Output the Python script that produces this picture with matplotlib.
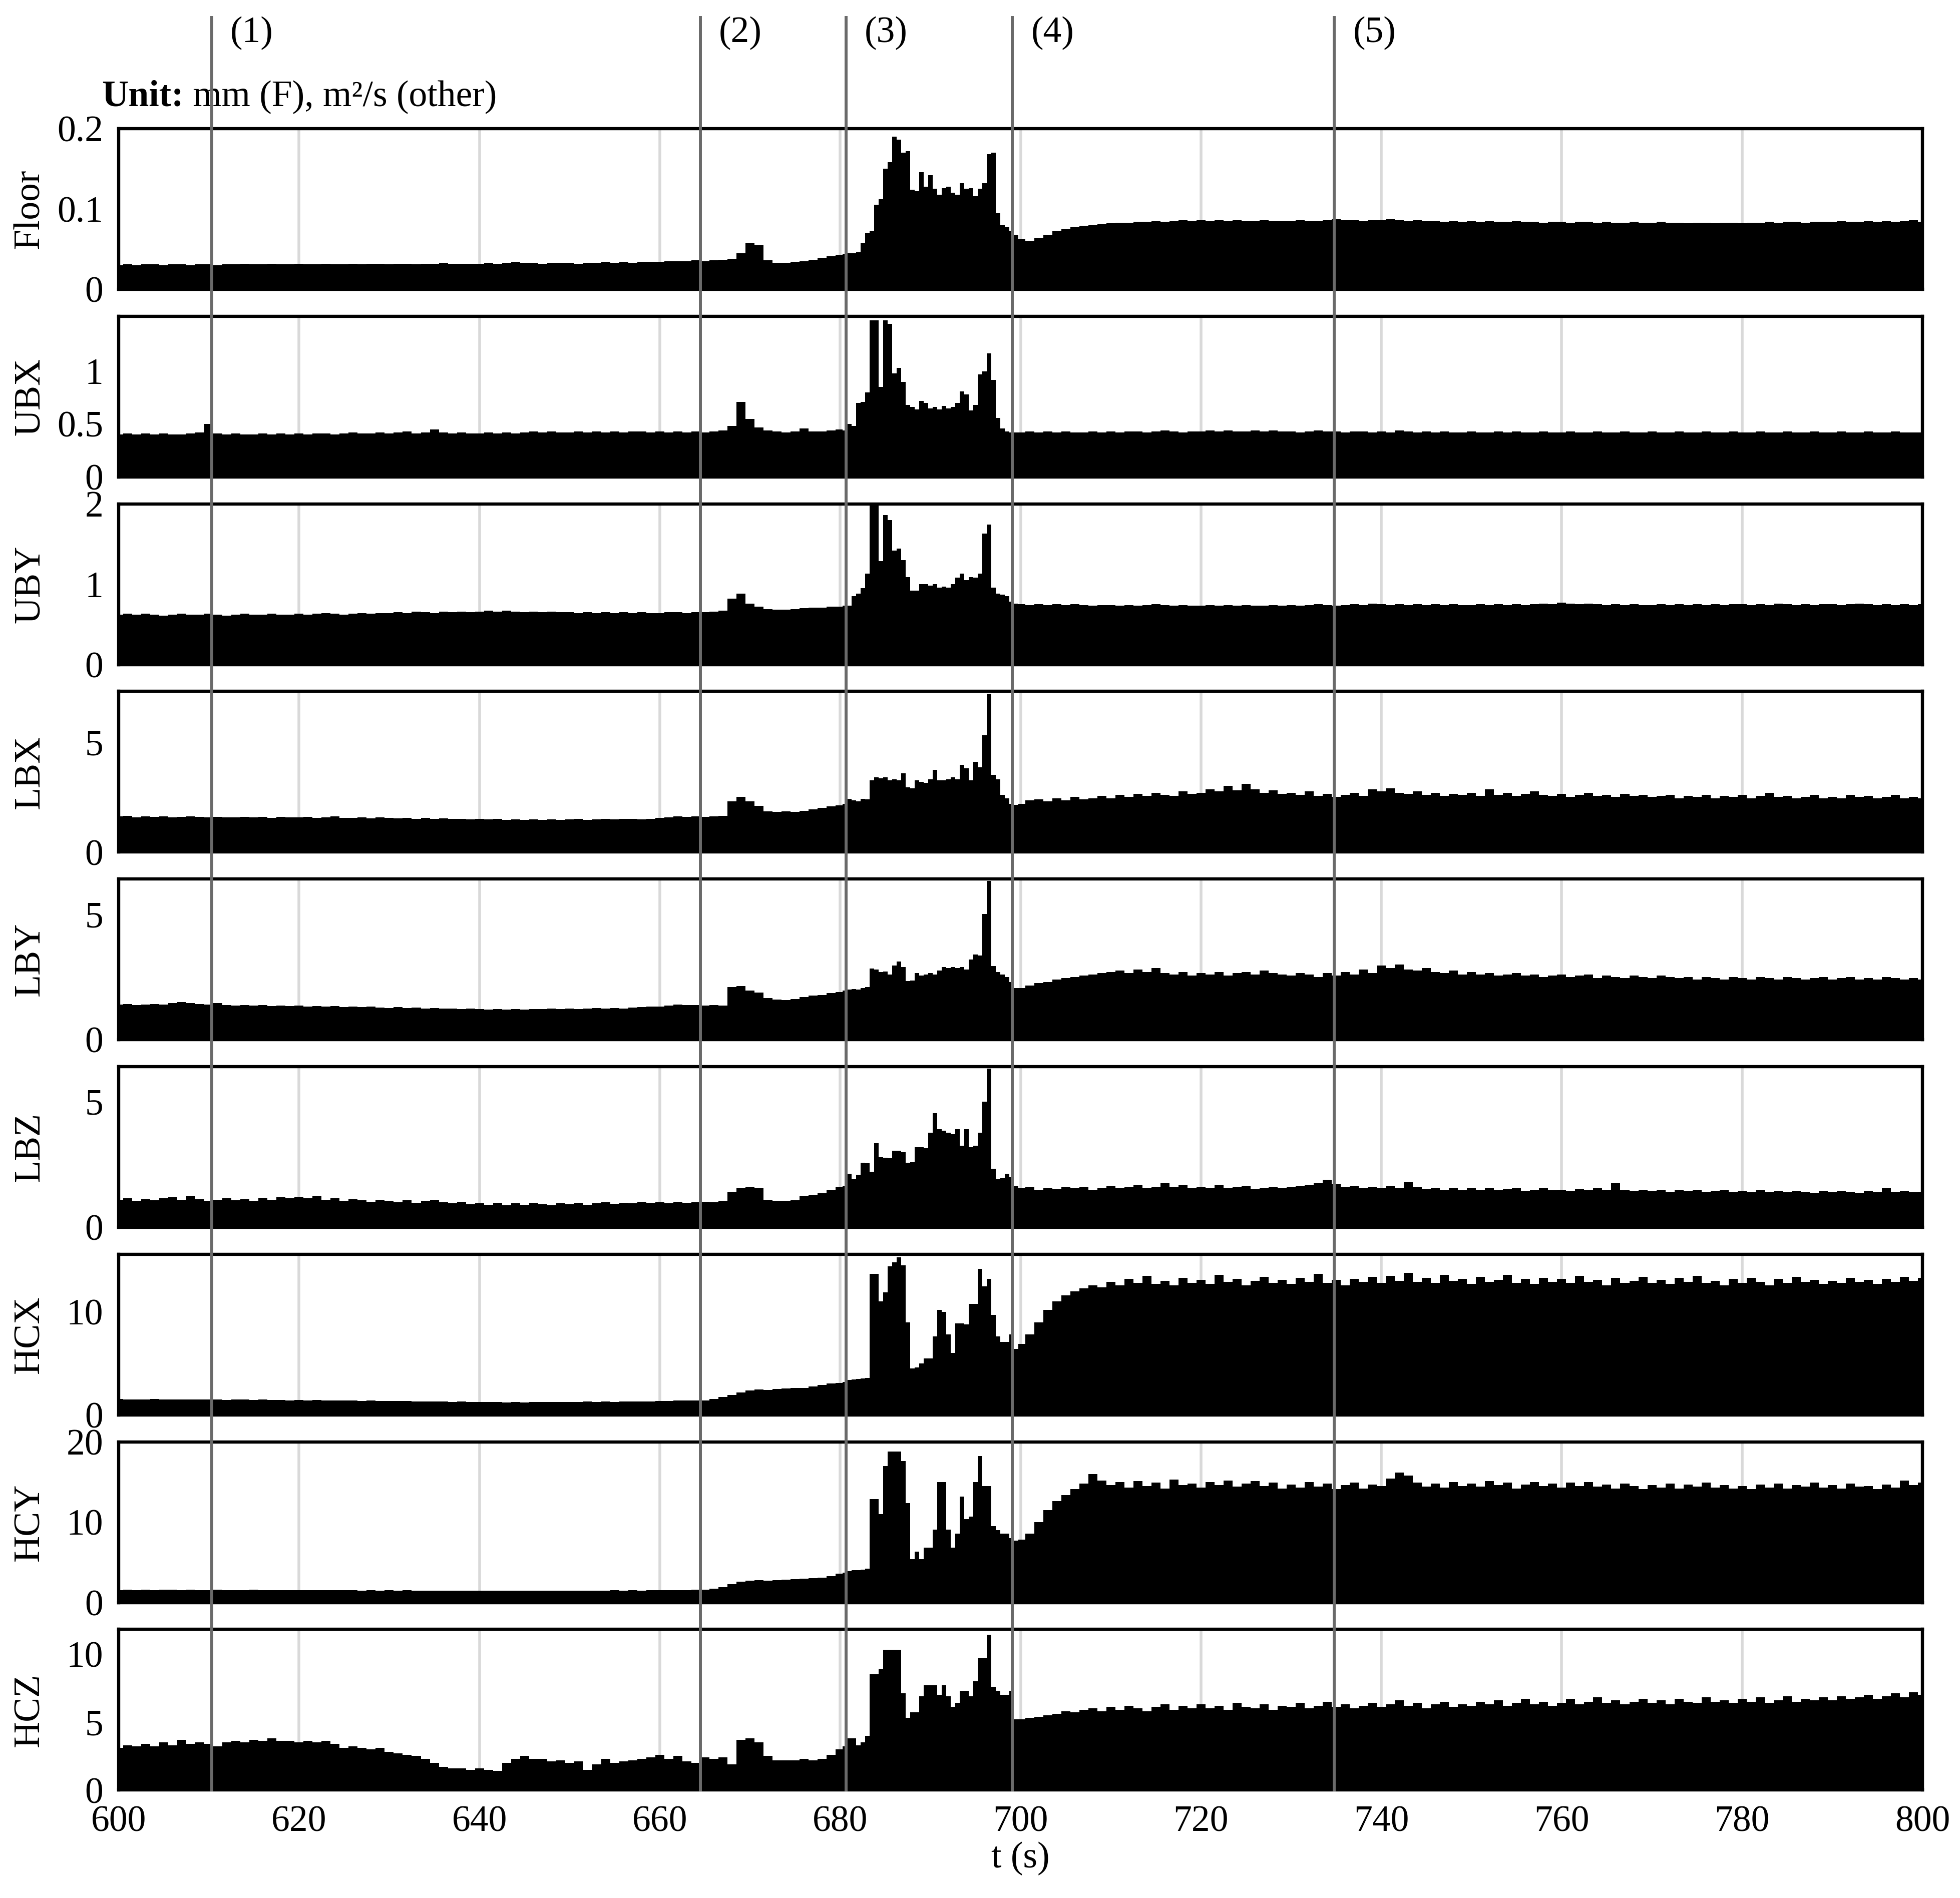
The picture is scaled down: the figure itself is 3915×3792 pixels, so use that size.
import numpy as np
import matplotlib
matplotlib.use("Agg")
import matplotlib.pyplot as plt
from matplotlib.lines import Line2D
from matplotlib.transforms import blended_transform_factory, ScaledTranslation

plt.rcParams['font.family'] = ['Liberation Serif', 'DejaVu Serif']

# ---------------- data ----------------
# sample times: 1 s steps 600-679, 0.5 s steps 680-699.5, 1 s steps 700-800
t_early = list(range(600, 680))
t_event = [680 + 0.5 * k for k in range(40)]
t_late = list(range(700, 801))

names = ["Floor", "UBX", "UBY", "LBX", "LBY", "LBZ", "HCX", "HCY", "HCZ"]
ylims = [0.2, 1.52, 2.0, 7.3, 6.4, 6.4, 15.6, 20.0, 11.8]
yticks = [[0, 0.1, 0.2], [0, 0.5, 1], [0, 1, 2], [0, 5], [0, 5], [0, 5],
          [0, 10], [0, 10, 20], [0, 5, 10]]
yticklabels = [["0", "0.1", "0.2"], ["0", "0.5", "1"], ["0", "1", "2"], ["0", "5"],
               ["0", "5"], ["0", "5"], ["0", "10"], ["0", "10", "20"], ["0", "5", "10"]]

event_times = [610.3, 664.5, 680.65, 699.1, 734.8]
event_labels = ["(1)", "(2)", "(3)", "(4)", "(5)"]

floor = [
    0.030, 0.031, 0.030, 0.031, 0.031, 0.030, 0.031, 0.031, 0.030, 0.031,
    0.031, 0.030, 0.031, 0.031, 0.032, 0.031, 0.031, 0.032, 0.031, 0.031,
    0.032, 0.031, 0.031, 0.032, 0.031, 0.031, 0.032, 0.031, 0.032, 0.032,
    0.031, 0.032, 0.032, 0.031, 0.032, 0.032, 0.033, 0.032, 0.032, 0.032,
    0.032, 0.033, 0.032, 0.033, 0.034, 0.033, 0.033, 0.032, 0.033, 0.033,
    0.033, 0.032, 0.033, 0.033, 0.034, 0.033, 0.034, 0.033, 0.034, 0.034,
    0.034, 0.035, 0.035, 0.035, 0.036, 0.035, 0.036, 0.037, 0.038, 0.045,
    0.058, 0.055, 0.036, 0.033, 0.033, 0.034, 0.035, 0.037, 0.039, 0.041,
    # 680 - 699.5 (0.5 s)
    0.043, 0.044, 0.045, 0.045, 0.046, 0.058, 0.070, 0.072, 0.105, 0.112,
    0.150, 0.158, 0.190, 0.186, 0.170, 0.172, 0.124, 0.122, 0.146, 0.128,
    0.142, 0.125, 0.118, 0.126, 0.128, 0.120, 0.118, 0.132, 0.125, 0.126,
    0.116, 0.125, 0.132, 0.168, 0.170, 0.095, 0.080, 0.077, 0.073, 0.068,
    # 700 - 800
    0.062, 0.060, 0.064, 0.068, 0.072, 0.075, 0.077, 0.079, 0.080, 0.081,
    0.082, 0.083, 0.083, 0.084, 0.084, 0.085, 0.084, 0.085, 0.086, 0.085,
    0.086, 0.085, 0.086, 0.085, 0.086, 0.085, 0.085, 0.086, 0.085, 0.085,
    0.085, 0.086, 0.085, 0.085, 0.086, 0.087, 0.086, 0.086, 0.085, 0.086,
    0.086, 0.087, 0.086, 0.085, 0.086, 0.085, 0.085, 0.084, 0.085, 0.084,
    0.085, 0.084, 0.085, 0.084, 0.084, 0.085, 0.084, 0.084, 0.083, 0.084,
    0.084, 0.083, 0.084, 0.084, 0.083, 0.084, 0.083, 0.083, 0.084, 0.083,
    0.083, 0.084, 0.083, 0.083, 0.082, 0.083, 0.083, 0.082, 0.083, 0.083,
    0.082, 0.083, 0.083, 0.084, 0.083, 0.084, 0.084, 0.083, 0.084, 0.084,
    0.084, 0.085, 0.084, 0.084, 0.085, 0.084, 0.085, 0.084, 0.085, 0.086, 0.084,
]

ubx = [
    0.40, 0.41, 0.40, 0.41, 0.40, 0.41, 0.40, 0.40, 0.41, 0.42,
    0.50, 0.41, 0.40, 0.41, 0.40, 0.40, 0.41, 0.40, 0.41, 0.40,
    0.41, 0.40, 0.41, 0.41, 0.40, 0.41, 0.42, 0.41, 0.41, 0.42,
    0.41, 0.42, 0.43, 0.41, 0.42, 0.45, 0.42, 0.41, 0.42, 0.41,
    0.41, 0.42, 0.41, 0.42, 0.41, 0.42, 0.43, 0.42, 0.43, 0.42,
    0.42, 0.43, 0.42, 0.43, 0.42, 0.43, 0.42, 0.43, 0.43, 0.42,
    0.43, 0.42, 0.43, 0.42, 0.43, 0.42, 0.43, 0.44, 0.48, 0.71,
    0.55, 0.47, 0.44, 0.43, 0.42, 0.43, 0.46, 0.43, 0.43, 0.44,
    # 680 - 699.5
    0.45, 0.44, 0.50, 0.48, 0.70, 0.71, 0.80, 1.48, 1.48, 0.85,
    1.48, 1.45, 0.98, 1.03, 0.90, 0.68, 0.66, 0.64, 0.72, 0.70,
    0.65, 0.66, 0.64, 0.67, 0.65, 0.66, 0.70, 0.81, 0.78, 0.63,
    0.68, 0.97, 1.00, 1.17, 0.92, 0.56, 0.46, 0.43, 0.42, 0.42,
    # 700 - 800
    0.42, 0.43, 0.42, 0.43, 0.42, 0.43, 0.42, 0.42, 0.43, 0.42,
    0.43, 0.42, 0.43, 0.43, 0.42, 0.43, 0.44, 0.43, 0.42, 0.43,
    0.43, 0.44, 0.43, 0.44, 0.43, 0.43, 0.44, 0.43, 0.44, 0.43,
    0.43, 0.42, 0.43, 0.44, 0.43, 0.43, 0.42, 0.43, 0.43, 0.42,
    0.43, 0.42, 0.44, 0.43, 0.42, 0.43, 0.42, 0.43, 0.42, 0.42,
    0.43, 0.42, 0.42, 0.43, 0.42, 0.43, 0.42, 0.42, 0.43, 0.42,
    0.42, 0.43, 0.42, 0.42, 0.43, 0.42, 0.42, 0.43, 0.42, 0.42,
    0.43, 0.42, 0.42, 0.43, 0.42, 0.42, 0.43, 0.42, 0.42, 0.43,
    0.42, 0.42, 0.43, 0.42, 0.42, 0.43, 0.42, 0.42, 0.43, 0.42,
    0.42, 0.43, 0.42, 0.42, 0.43, 0.42, 0.42, 0.43, 0.42, 0.42, 0.42,
]

uby = [
    0.62, 0.63, 0.62, 0.63, 0.62, 0.61, 0.62, 0.63, 0.62, 0.62,
    0.63, 0.62, 0.61, 0.62, 0.63, 0.62, 0.62, 0.63, 0.62, 0.62,
    0.63, 0.62, 0.63, 0.64, 0.63, 0.62, 0.63, 0.64, 0.63, 0.64,
    0.64, 0.65, 0.64, 0.66, 0.65, 0.64, 0.66, 0.65, 0.66, 0.65,
    0.66, 0.67, 0.66, 0.67, 0.66, 0.65, 0.66, 0.65, 0.66, 0.65,
    0.65, 0.64, 0.65, 0.64, 0.65, 0.64, 0.65, 0.64, 0.65, 0.64,
    0.64, 0.65, 0.65, 0.64, 0.65, 0.65, 0.66, 0.67, 0.82, 0.88,
    0.76, 0.72, 0.69, 0.68, 0.68, 0.69, 0.70, 0.71, 0.71, 0.72,
    # 680 - 699.5
    0.72, 0.73, 0.73, 0.85, 0.88, 0.95, 1.13, 1.98, 1.98, 1.29,
    1.86, 1.80, 1.42, 1.44, 1.30, 1.09, 0.92, 0.92, 1.00, 1.00,
    0.98, 1.00, 0.96, 0.97, 0.96, 1.00, 1.08, 1.13, 1.05, 1.09,
    1.08, 1.13, 1.63, 1.74, 0.96, 0.88, 0.87, 0.85, 0.78, 0.76,
    # 700 - 800
    0.75, 0.74, 0.75, 0.74, 0.75, 0.74, 0.75, 0.74, 0.73, 0.74,
    0.74, 0.73, 0.74, 0.73, 0.74, 0.75, 0.74, 0.73, 0.74, 0.73,
    0.73, 0.74, 0.73, 0.74, 0.73, 0.74, 0.73, 0.73, 0.74, 0.73,
    0.74, 0.73, 0.74, 0.75, 0.74, 0.73, 0.74, 0.75, 0.74, 0.76,
    0.75, 0.74, 0.75, 0.74, 0.75, 0.74, 0.75, 0.74, 0.75, 0.74,
    0.74, 0.75, 0.74, 0.75, 0.74, 0.75, 0.74, 0.75, 0.76, 0.75,
    0.77, 0.76, 0.75, 0.76, 0.75, 0.74, 0.75, 0.74, 0.75, 0.74,
    0.74, 0.75, 0.74, 0.75, 0.74, 0.75, 0.74, 0.75, 0.74, 0.75,
    0.75, 0.74, 0.75, 0.74, 0.76, 0.75, 0.74, 0.75, 0.74, 0.75,
    0.75, 0.74, 0.75, 0.76, 0.75, 0.74, 0.75, 0.74, 0.75, 0.74, 0.75,
]

lbx = [
    1.62, 1.65, 1.58, 1.62, 1.60, 1.63, 1.58, 1.60, 1.62, 1.59,
    1.58, 1.60, 1.57, 1.58, 1.61, 1.57, 1.59, 1.56, 1.60, 1.58,
    1.57, 1.59, 1.55, 1.58, 1.62, 1.56, 1.55, 1.58, 1.54, 1.57,
    1.55, 1.53, 1.56, 1.52, 1.55, 1.51, 1.53, 1.50, 1.52, 1.49,
    1.50, 1.48, 1.51, 1.47, 1.49, 1.46, 1.48, 1.47, 1.49, 1.46,
    1.48, 1.50, 1.47, 1.49, 1.51, 1.48, 1.50, 1.52, 1.49, 1.51,
    1.55, 1.58, 1.62, 1.60, 1.62, 1.60, 1.62, 1.65, 2.30, 2.50,
    2.30, 2.10, 1.85, 1.82, 1.85, 1.82, 1.88, 1.95, 2.00, 2.08,
    # 680 - 699.5
    2.12, 2.20, 2.43, 2.35, 2.30, 2.43, 2.40, 3.25, 3.40, 3.35,
    3.40, 3.25, 3.30, 3.25, 3.57, 2.94, 2.90, 3.25, 3.20, 3.15,
    3.30, 3.73, 3.25, 3.25, 3.30, 3.40, 3.30, 3.97, 3.80, 3.25,
    4.10, 3.85, 5.30, 7.20, 3.50, 3.30, 2.60, 2.45, 2.20, 2.15,
    # 700 - 800
    2.20, 2.35, 2.40, 2.30, 2.45, 2.35, 2.50, 2.40, 2.45, 2.55,
    2.45, 2.60, 2.50, 2.65, 2.55, 2.70, 2.60, 2.55, 2.75, 2.65,
    2.70, 2.85, 2.75, 3.00, 2.80, 3.10, 2.85, 2.70, 2.80, 2.65,
    2.70, 2.60, 2.75, 2.55, 2.65, 2.50, 2.60, 2.70, 2.55, 2.85,
    2.75, 2.90, 2.70, 2.65, 2.75, 2.60, 2.70, 2.55, 2.65, 2.60,
    2.70, 2.55, 2.85, 2.60, 2.70, 2.55, 2.65, 2.75, 2.60, 2.55,
    2.65, 2.50, 2.60, 2.70, 2.55, 2.60, 2.50, 2.65, 2.55, 2.60,
    2.50, 2.55, 2.60, 2.45, 2.55, 2.50, 2.60, 2.45, 2.55, 2.50,
    2.60, 2.45, 2.55, 2.70, 2.50, 2.55, 2.45, 2.50, 2.60, 2.45,
    2.50, 2.45, 2.60, 2.50, 2.55, 2.45, 2.50, 2.60, 2.45, 2.50, 2.45,
]

lby = [
    1.40, 1.42, 1.38, 1.40, 1.42, 1.39, 1.45, 1.50, 1.45, 1.42,
    1.40, 1.45, 1.38, 1.36, 1.38, 1.35, 1.37, 1.34, 1.36, 1.33,
    1.35, 1.32, 1.34, 1.31, 1.33, 1.30, 1.32, 1.29, 1.31, 1.28,
    1.27, 1.29, 1.26, 1.28, 1.25, 1.26, 1.24, 1.25, 1.22, 1.24,
    1.22, 1.21, 1.23, 1.20, 1.22, 1.21, 1.23, 1.22, 1.24, 1.22,
    1.24, 1.23, 1.25, 1.26, 1.24, 1.27, 1.25, 1.28, 1.30, 1.32,
    1.32, 1.35, 1.40, 1.38, 1.38, 1.36, 1.38, 1.35, 2.10, 2.13,
    1.95, 1.88, 1.65, 1.60, 1.58, 1.62, 1.70, 1.75, 1.78, 1.85,
    # 680 - 699.5
    1.90, 1.95, 2.00, 2.02, 2.00, 2.05, 2.10, 2.84, 2.80, 2.70,
    2.72, 2.60, 2.95, 3.11, 2.90, 2.33, 2.35, 2.65, 2.55, 2.60,
    2.65, 2.60, 2.75, 2.90, 2.85, 2.90, 2.85, 2.90, 2.80, 3.20,
    3.40, 3.35, 5.00, 6.33, 2.93, 2.70, 2.60, 2.50, 2.30, 2.05,
    # 700 - 800
    2.05, 2.15, 2.25, 2.30, 2.40, 2.45, 2.50, 2.55, 2.60, 2.65,
    2.70, 2.75, 2.65, 2.80, 2.70, 2.85, 2.65, 2.60, 2.70, 2.55,
    2.65, 2.60, 2.70, 2.55, 2.65, 2.70, 2.60, 2.75, 2.65, 2.60,
    2.55, 2.65, 2.60, 2.50, 2.65, 2.55, 2.70, 2.60, 2.80, 2.65,
    2.95, 2.85, 3.00, 2.80, 2.75, 2.85, 2.70, 2.65, 2.75, 2.60,
    2.70, 2.60, 2.65, 2.55, 2.60, 2.65, 2.55, 2.60, 2.50, 2.55,
    2.60, 2.50, 2.55, 2.60, 2.45, 2.55, 2.50, 2.45, 2.55, 2.50,
    2.45, 2.55, 2.50, 2.45, 2.50, 2.40, 2.50, 2.45, 2.40, 2.50,
    2.45, 2.40, 2.50, 2.45, 2.40, 2.50, 2.45, 2.40, 2.45, 2.50,
    2.40, 2.45, 2.50, 2.40, 2.45, 2.40, 2.50, 2.45, 2.40, 2.45, 2.40,
]

lbz = [
    1.10, 1.15, 1.05, 1.12, 1.08, 1.15, 1.20, 1.10, 1.25, 1.12,
    1.05, 1.10, 1.15, 1.08, 1.12, 1.05, 1.18, 1.10, 1.20, 1.15,
    1.22, 1.15, 1.25, 1.10, 1.15, 1.05, 1.12, 1.08, 1.02, 1.10,
    1.05, 1.00, 1.08, 0.98, 1.05, 1.10, 1.00, 0.95, 1.02, 0.92,
    0.95, 0.90, 0.98, 0.88, 0.95, 0.90, 0.98, 0.92, 0.88, 0.95,
    0.92, 0.98, 0.90, 0.95, 1.00, 0.93, 0.98, 0.95, 1.02, 0.98,
    1.00, 0.95, 1.02, 0.98, 1.00, 1.02, 1.00, 1.05, 1.42, 1.55,
    1.62, 1.55, 1.10, 1.05, 1.06, 1.08, 1.25, 1.30, 1.35, 1.50,
    # 680 - 699.5
    1.62, 1.65, 2.14, 1.92, 2.10, 2.58, 2.55, 2.22, 3.34, 2.80,
    2.77, 2.75, 3.06, 3.06, 3.00, 2.58, 2.60, 3.20, 3.20, 3.15,
    3.76, 4.55, 3.90, 3.85, 3.76, 3.70, 3.90, 3.25, 3.90, 3.20,
    3.25, 3.76, 5.00, 6.33, 2.34, 1.92, 1.95, 2.14, 2.00, 1.65,
    # 700 - 800
    1.55, 1.60, 1.50, 1.58, 1.52, 1.60, 1.55, 1.62, 1.50, 1.58,
    1.65, 1.55, 1.60, 1.70, 1.58, 1.62, 1.75, 1.60, 1.68, 1.55,
    1.62, 1.58, 1.70, 1.55, 1.60, 1.65, 1.52, 1.58, 1.62, 1.55,
    1.60, 1.65, 1.70, 1.75, 1.90, 1.72, 1.60, 1.65, 1.55, 1.62,
    1.58, 1.65, 1.55, 1.80, 1.60, 1.52, 1.58, 1.50, 1.55, 1.48,
    1.55, 1.50, 1.58, 1.48, 1.52, 1.55, 1.45, 1.50, 1.55, 1.48,
    1.50, 1.45, 1.52, 1.48, 1.55, 1.50, 1.75, 1.48, 1.45, 1.50,
    1.45, 1.50, 1.42, 1.48, 1.45, 1.50, 1.42, 1.45, 1.48, 1.42,
    1.45, 1.40, 1.48, 1.42, 1.45, 1.40, 1.45, 1.42, 1.38, 1.45,
    1.40, 1.45, 1.42, 1.38, 1.45, 1.40, 1.55, 1.42, 1.45, 1.40, 1.42,
]

hcx = [
    1.55, 1.50, 1.52, 1.48, 1.55, 1.50, 1.52, 1.48, 1.50, 1.52,
    1.48, 1.50, 1.45, 1.48, 1.50, 1.45, 1.48, 1.44, 1.46, 1.42,
    1.45, 1.42, 1.44, 1.40, 1.42, 1.38, 1.40, 1.36, 1.38, 1.35,
    1.36, 1.33, 1.35, 1.30, 1.32, 1.28, 1.30, 1.27, 1.28, 1.25,
    1.26, 1.24, 1.25, 1.22, 1.24, 1.22, 1.25, 1.23, 1.26, 1.24,
    1.26, 1.25, 1.28, 1.26, 1.29, 1.27, 1.30, 1.28, 1.32, 1.30,
    1.33, 1.35, 1.38, 1.40, 1.42, 1.40, 1.55, 1.75, 1.95, 2.20,
    2.35, 2.45, 2.40, 2.50, 2.55, 2.60, 2.62, 2.75, 2.90, 3.05,
    # 680 - 699.5
    3.10, 3.20, 3.40, 3.45, 3.50, 3.55, 3.60, 13.7, 13.7, 11.0,
    11.9, 14.4, 14.8, 15.3, 14.5, 9.0, 4.5, 4.6, 5.0, 5.5,
    5.5, 7.6, 10.2, 10.0, 7.8, 6.0, 8.9, 8.9, 8.8, 10.8,
    10.8, 14.2, 12.5, 13.2, 9.7, 7.6, 7.1, 7.1, 7.8, 6.4,
    # 700 - 800
    6.9, 7.8, 9.0, 10.2, 11.0, 11.6, 12.0, 12.3, 12.6, 12.4,
    12.9, 12.6, 13.2, 12.8, 13.5, 12.7, 13.0, 12.6, 13.3, 12.8,
    13.1, 12.7, 13.6, 12.9, 13.2, 12.6, 13.0, 13.4, 12.8, 13.1,
    12.7, 13.3, 12.9, 13.7, 12.8, 13.1, 12.6, 13.2, 12.9, 13.4,
    12.8, 13.5, 13.0, 13.8, 12.9, 13.3, 12.8, 13.6, 13.0, 13.2,
    12.7, 13.4, 12.9, 13.1, 13.6, 12.8, 13.2, 12.7, 13.3, 12.9,
    13.2, 12.8, 13.5, 12.9, 13.1, 12.6, 13.3, 12.8, 13.0, 13.4,
    12.8, 13.1, 12.7, 13.3, 12.9, 13.5, 12.8, 13.0, 12.6, 13.2,
    12.8, 13.3, 12.9, 12.6, 13.2, 12.8, 13.4, 12.9, 13.1, 12.7,
    13.0, 12.8, 13.3, 12.9, 13.1, 12.7, 13.2, 12.9, 13.4, 13.0, 13.3,
]

hcy = [
    1.55, 1.60, 1.55, 1.58, 1.55, 1.60, 1.57, 1.55, 1.60, 1.56,
    1.55, 1.58, 1.54, 1.56, 1.55, 1.58, 1.54, 1.56, 1.55, 1.53,
    1.55, 1.52, 1.54, 1.52, 1.55, 1.52, 1.53, 1.50, 1.52, 1.50,
    1.52, 1.50, 1.51, 1.49, 1.50, 1.48, 1.50, 1.48, 1.49, 1.47,
    1.48, 1.47, 1.49, 1.47, 1.48, 1.46, 1.48, 1.47, 1.49, 1.47,
    1.48, 1.50, 1.48, 1.50, 1.49, 1.51, 1.50, 1.52, 1.50, 1.52,
    1.52, 1.54, 1.55, 1.56, 1.58, 1.60, 1.70, 1.90, 2.30, 2.60,
    2.70, 2.75, 2.70, 2.80, 2.85, 2.90, 2.95, 3.00, 3.10, 3.30,
    # 680 - 699.5
    3.60, 3.70, 3.90, 4.00, 4.00, 4.10, 4.20, 12.9, 12.9, 11.0,
    17.0, 18.8, 18.8, 18.8, 17.6, 12.4, 5.4, 6.3, 5.4, 6.8,
    6.8, 9.1, 15.0, 15.0, 9.1, 6.8, 8.6, 13.2, 10.4, 10.7,
    15.0, 18.2, 14.5, 14.5, 9.5, 9.0, 8.6, 8.6, 8.0, 7.7,
    # 700 - 800
    7.8, 8.6, 10.0, 11.5, 12.6, 13.4, 14.1, 14.8, 16.0, 15.2,
    14.6, 15.0, 14.3, 15.1, 14.5, 14.9, 14.2, 15.3, 14.6, 14.8,
    14.3, 15.0, 14.6, 15.2, 14.4, 14.8, 15.1, 14.5, 14.9, 14.2,
    14.7, 14.3, 15.0, 14.4, 14.8, 14.1, 14.6, 14.9, 14.2, 14.7,
    14.5, 15.4, 16.2, 15.8, 14.9, 14.4, 14.8, 14.3, 15.0, 14.5,
    14.8, 14.4, 15.1, 14.6, 14.9, 14.2, 14.7, 15.0, 14.5, 14.8,
    14.3, 14.9, 14.5, 15.0, 14.4, 14.7, 14.2, 14.8, 14.5, 14.1,
    14.6, 14.3, 14.8, 14.2, 14.7, 14.4, 14.9, 14.3, 14.6, 14.2,
    14.5, 14.1, 14.7, 14.3, 14.8, 14.2, 14.6, 14.4, 14.9, 14.3,
    14.6, 14.2, 14.8, 14.4, 14.5, 14.1, 14.7, 14.3, 15.2, 14.6, 14.9,
]

hcz = [
    3.10, 3.30, 3.20, 3.40, 3.20, 3.50, 3.30, 3.70, 3.40, 3.50,
    3.40, 3.20, 3.50, 3.60, 3.50, 3.70, 3.60, 3.80, 3.60, 3.60,
    3.50, 3.60, 3.50, 3.60, 3.40, 3.10, 3.20, 3.10, 3.00, 3.10,
    2.80, 2.70, 2.60, 2.50, 2.30, 2.00, 1.70, 1.60, 1.60, 1.50,
    1.60, 1.50, 1.40, 2.00, 2.30, 2.50, 2.30, 2.30, 2.10, 2.20,
    2.00, 2.10, 1.50, 1.90, 2.30, 2.00, 2.10, 2.20, 2.30, 2.40,
    2.60, 2.30, 2.50, 2.10, 2.00, 2.40, 2.30, 2.40, 1.90, 3.70,
    3.80, 3.50, 2.50, 2.20, 2.20, 2.20, 2.30, 2.20, 2.30, 2.60,
    # 680 - 699.5
    3.0, 3.2, 3.8, 3.8, 3.3, 3.5, 4.0, 8.5, 8.5, 8.9,
    10.3, 10.3, 10.3, 10.3, 7.1, 5.3, 5.7, 5.7, 6.9, 7.7,
    7.7, 7.7, 7.0, 7.7, 6.9, 6.1, 6.4, 7.3, 7.3, 6.9,
    8.0, 9.7, 9.7, 11.4, 7.6, 7.3, 7.0, 7.0, 7.3, 5.2,
    # 700 - 800
    5.2, 5.3, 5.4, 5.5, 5.6, 5.8, 5.7, 5.9, 6.0, 5.8,
    6.1, 5.9, 6.2, 6.0, 5.8, 6.1, 6.3, 5.9, 6.2, 6.0,
    6.3, 6.0, 6.2, 5.9, 6.4, 6.1, 6.0, 6.3, 5.9, 6.2,
    6.1, 6.4, 6.0, 6.2, 6.5, 6.1, 6.3, 6.0, 6.2, 6.4,
    6.1, 6.3, 6.6, 6.2, 6.4, 6.0, 6.3, 6.5, 6.1, 6.3,
    6.2, 6.5, 6.3, 6.6, 6.2, 6.4, 6.7, 6.3, 6.5, 6.2,
    6.4, 6.7, 6.3, 6.5, 6.8, 6.4, 6.6, 6.3, 6.5, 6.7,
    6.4, 6.6, 6.3, 6.7, 6.5, 6.4, 6.8, 6.5, 6.6, 6.4,
    6.7, 6.5, 6.8, 6.4, 6.6, 6.9, 6.5, 6.7, 6.6, 6.8,
    6.6, 6.9, 6.7, 6.8, 7.0, 6.7, 6.9, 7.1, 6.8, 7.2, 7.0,
]

series = [floor, ubx, uby, lbx, lby, lbz, hcx, hcy, hcz]
t = np.array(t_early + t_event + t_late, dtype=float)

# ---------------- figure ----------------
W, H = 3915, 3792
DPI = 100
fig = plt.figure(figsize=(W / DPI, H / DPI), dpi=DPI)

FS = 53
left_px, right_px = 237, 3840
top0_px, pitch_px, height_px = 257, 374.8, 321
spine_w = 4.6

axes = []
for i, (name, vals) in enumerate(zip(names, series)):
    top = top0_px + i * pitch_px
    ax = fig.add_axes([left_px / W, 1 - (top + height_px) / H,
                       (right_px - left_px) / W, height_px / H])
    axes.append(ax)
    v = np.array(vals, dtype=float)
    assert len(v) == len(t), (name, len(v))
    ax.fill_between(t, 0, v, step='mid', color='black', linewidth=0, zorder=2)
    ax.set_xlim(600, 800)
    ax.set_ylim(0, ylims[i])
    ax.set_xticks(np.arange(600, 801, 20))
    ax.grid(axis='x', color='#d9d9d9', linewidth=4.0, zorder=0)
    ax.set_axisbelow(True)
    ax.set_yticks(yticks[i])
    ax.set_yticklabels(yticklabels[i])
    ax.tick_params(axis='both', length=0, labelsize=FS)
    ax.tick_params(axis='y', pad=22)
    ax.tick_params(axis='x', pad=22)
    for s in ax.spines.values():
        s.set_linewidth(spine_w)
        s.set_color('black')
        s.set_zorder(3)
    ax.set_ylabel(name, fontsize=FS, va='center')
    ax.yaxis.set_label_coords(-(237 - 60) / (right_px - left_px), 0.5)
    if i < len(names) - 1:
        ax.tick_params(axis='x', labelbottom=False)
    else:
        ax.set_xlabel("t (s)", fontsize=FS, labelpad=4)

# event lines spanning the whole stack
ax0 = axes[0]
trans = blended_transform_factory(ax0.transData, fig.transFigure)
y_top = 1 - 35 / H
y_bot = 1 - (top0_px + 8 * pitch_px + height_px) / H
label_shift = ScaledTranslation(37 / DPI, 0, fig.dpi_scale_trans)
for te, lab in zip(event_times, event_labels):
    ln = Line2D([te, te], [y_bot, y_top], transform=trans, color='#6a6a6a',
                linewidth=4.3, zorder=10)
    fig.add_artist(ln)
    fig.text(te, 1 - 66 / H, lab, transform=trans + label_shift, fontsize=FS,
             ha='left', va='center')

unit_bold = fig.text(203 / W, 1 - 212 / H, "Unit:", fontsize=FS, fontweight='bold',
                     ha='left', va='baseline')
fig.canvas.draw()
renderer = fig.canvas.get_renderer()
bb = unit_bold.get_window_extent(renderer)
fig.text(bb.x1 / W, 1 - 212 / H, " mm (F), m\u00b2/s (other)", fontsize=FS,
         ha='left', va='baseline')

fig.savefig("out.png", dpi=DPI)
